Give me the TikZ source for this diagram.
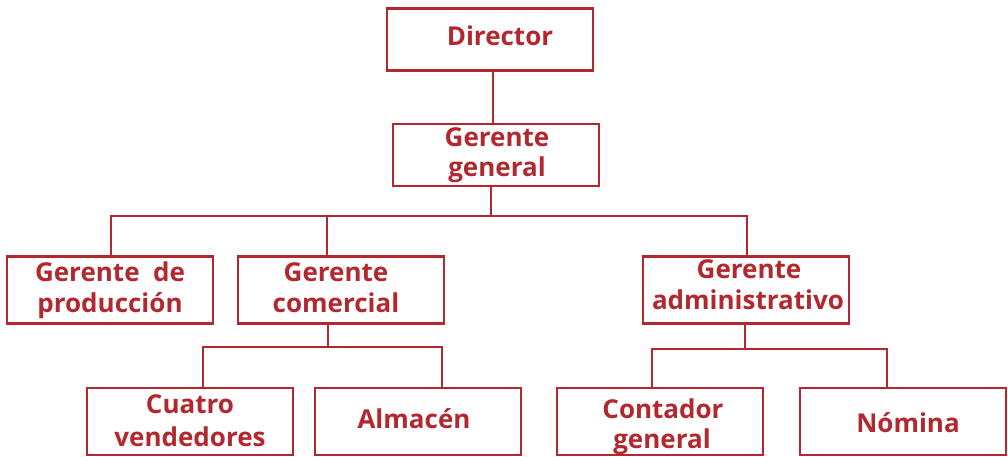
\documentclass[tikz,border=0pt]{standalone}
\usepackage{fontspec}
\setmainfont{Open Sans}
\definecolor{org}{RGB}{178,40,46}
\begin{document}
\begin{tikzpicture}[x=1pt,y=-1pt,
  box/.style={draw=org,line width=2.6pt,minimum width=#1,minimum height=67pt,inner sep=0pt},
  box/.default=206pt,
  lbl/.style={anchor=base,inner sep=0pt,text=org,font=\fontsize{26}{30}\selectfont\bfseries},
  wire/.style={draw=org,line width=2.6pt}]
\useasboundingbox (0,0) rectangle (1008,457);
% boxes
\node[box,minimum height=62pt] (dir) at (490,39.5) {};
\node[box,minimum height=62pt] (gg) at (496,155) {};
\node[box] (prod) at (110,290) {};
\node[box] (com) at (341,290) {};
\node[box] (adm) at (746,290) {};
\node[box] (ven) at (190,421.5) {};
\node[box] (alm) at (418,421.5) {};
\node[box] (cont) at (660,421.5) {};
\node[box] (nom) at (903,421.5) {};
% labels
\node[lbl] (tdir) at (500,46) {Director};
\node[lbl] (tgg1) at (497,147) {Gerente};
\node[lbl] (tgg2) at (497,176) {general};
\node[lbl] (tprod1) at (110,281) {Gerente\ \ de};
\node[lbl] (tprod2) at (110,312) {producción};
\node[lbl] (tcom1) at (336,281) {Gerente};
\node[lbl] (tcom2) at (336,312) {comercial};
\node[lbl] (tadm1) at (749,278) {Gerente};
\node[lbl] (tadm2) at (748,309) {administrativo};
\node[lbl] (tven1) at (190,413) {Cuatro};
\node[lbl] (tven2) at (190,446) {vendedores};
\node[lbl] (talm) at (414,428) {Almacén};
\node[lbl] (tcont1) at (663,418) {Contador};
\node[lbl] (tcont2) at (662,448) {general};
\node[lbl] (tnom) at (908,432) {Nómina};
% branch points
\coordinate (d0) at (493,0);
\coordinate (b1) at (491,216);
\coordinate (b1l) at (111,216);
\coordinate (b1m) at (327,216);
\coordinate (b1r) at (747,216);
\coordinate (b2) at (328,347);
\coordinate (b2l) at (203,347);
\coordinate (b2r) at (442,347);
\coordinate (b3) at (745,349);
\coordinate (b3l) at (652,349);
\coordinate (b3r) at (887,349);
% connectors
\draw[wire] (d0 |- dir.south) -- (d0 |- gg.north);
\draw[wire] (b1 |- gg.south) -- (b1);
\draw[wire] (b1l |- prod.north) -- (b1l) -- (b1r) -- (b1r |- adm.north);
\draw[wire] (b1m) -- (b1m |- com.north);
\draw[wire] (b2 |- com.south) -- (b2);
\draw[wire] (b2l |- ven.north) -- (b2l) -- (b2r) -- (b2r |- alm.north);
\draw[wire] (b3 |- adm.south) -- (b3);
\draw[wire] (b3l |- cont.north) -- (b3l) -- (b3r) -- (b3r |- nom.north);
\end{tikzpicture}
\end{document}
